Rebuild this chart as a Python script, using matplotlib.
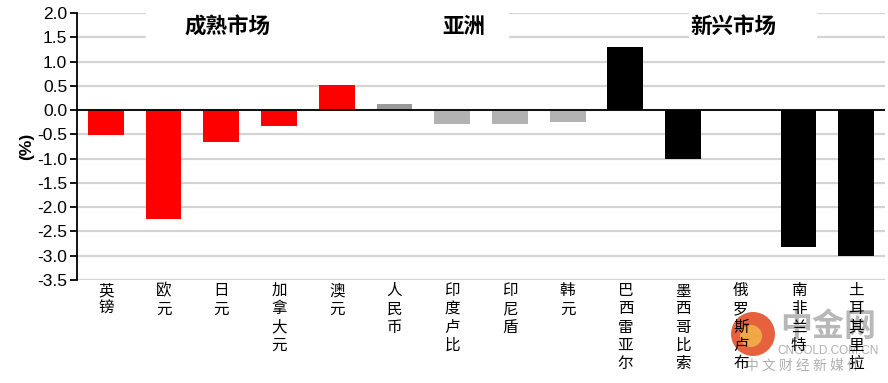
import numpy as np
import matplotlib.pyplot as plt
from matplotlib.patches import Ellipse

# data
labels = ['英镑', '欧元', '日元', '加拿大元', '澳元',
          '人民币', '印度卢比', '印尼盾', '韩元',
          '巴西雷亚尔', '墨西哥比索', '俄罗斯卢布', '南非兰特', '土耳其里拉']
values = [-0.51, -2.25, -0.66, -0.32, 0.52,
          0.13, -0.28, -0.28, -0.24,
          1.30, -1.01, 0.0, -2.82, -3.01]
colors = ['#ff0000'] * 5 + ['#999999', '#b2b2b2', '#b2b2b2', '#b2b2b2'] + ['#000000'] * 5
groups = ['成熟市场', '亚洲', '新兴市场']
group_pos = [2.1, 6.2, 10.87]
yticks = np.arange(-3.5, 2.01, 0.5)

cjk = ['Noto Sans CJK SC', 'DejaVu Sans']
plt.rcParams['font.family'] = ['Liberation Sans', 'DejaVu Sans']

fig = plt.figure(figsize=(8.88, 3.83), dpi=100)
ax = fig.add_axes([0.0867, 0.269, 0.91, 0.697])

x = np.arange(len(labels))
ax.bar(x, values, width=0.62, color=colors, zorder=3)
ax.axhline(0, color='black', lw=1.3, zorder=4)

ax.set_xlim(-0.5, len(labels) - 0.5)
ax.set_ylim(-3.5, 2.0)
ax.set_yticks(yticks)
ax.set_yticklabels(['%.1f' % v for v in yticks], fontsize=12.5)
ax.yaxis.grid(True, color='#d4d4d4', lw=1.6, zorder=0)
ax.set_axisbelow(True)
for s in ['top', 'right', 'bottom']:
    ax.spines[s].set_visible(False)
ax.spines['left'].set_linewidth(1.3)
ax.tick_params(axis='y', direction='out', length=5, width=1.3, pad=2)
ax.tick_params(axis='x', length=0, pad=1.5)
ax.set_xticks(x)
ax.set_xticklabels(['\n'.join(l) for l in labels], family=cjk, fontsize=11.2,
                   linespacing=1.1, va='top')
ax.set_ylabel('(%)', fontsize=12.5, fontweight='bold', labelpad=2)

# white boxes behind the group titles
ax.fill_between([0.7, 6.96], 1.43, 2.05, color='white', zorder=1)
ax.fill_between([10.1, 12.3], 1.43, 2.05, color='white', zorder=1)
for g, p in zip(groups, group_pos):
    ax.text(p, 1.72, g, family=cjk, fontsize=15.5, fontweight='bold',
            ha='center', va='center', zorder=5)

# watermark
fig.patches.append(Ellipse((753 / 888, 1 - 334 / 383), 44 / 888, 44 / 383,
                           transform=fig.transFigure, facecolor='#e2461c',
                           edgecolor='none', alpha=0.85, zorder=-1))
fig.patches.append(Ellipse((751 / 888, 1 - 336 / 383), 22 / 888, 22 / 383,
                           transform=fig.transFigure, facecolor='#f2b44a',
                           edgecolor='none', alpha=0.85, zorder=-1))
fig.text(828 / 888, 1 - 327 / 383, '中金网', family=cjk, fontsize=23, fontweight='bold',
         color='#a0a0a0', alpha=0.75, ha='center', va='center', zorder=-1)
fig.text(828 / 888, 1 - 351 / 383, 'CNGOLD.COM.CN', fontsize=8.5, color='#b0b0b0',
         ha='center', va='center', zorder=-1)
fig.text(803 / 888, 1 - 366 / 383, '中 文 财 经 新 媒 体', family=cjk, fontsize=10,
         color='#b0b0b0', ha='center', va='center', zorder=-1)

fig.savefig('out.png', dpi=100)
